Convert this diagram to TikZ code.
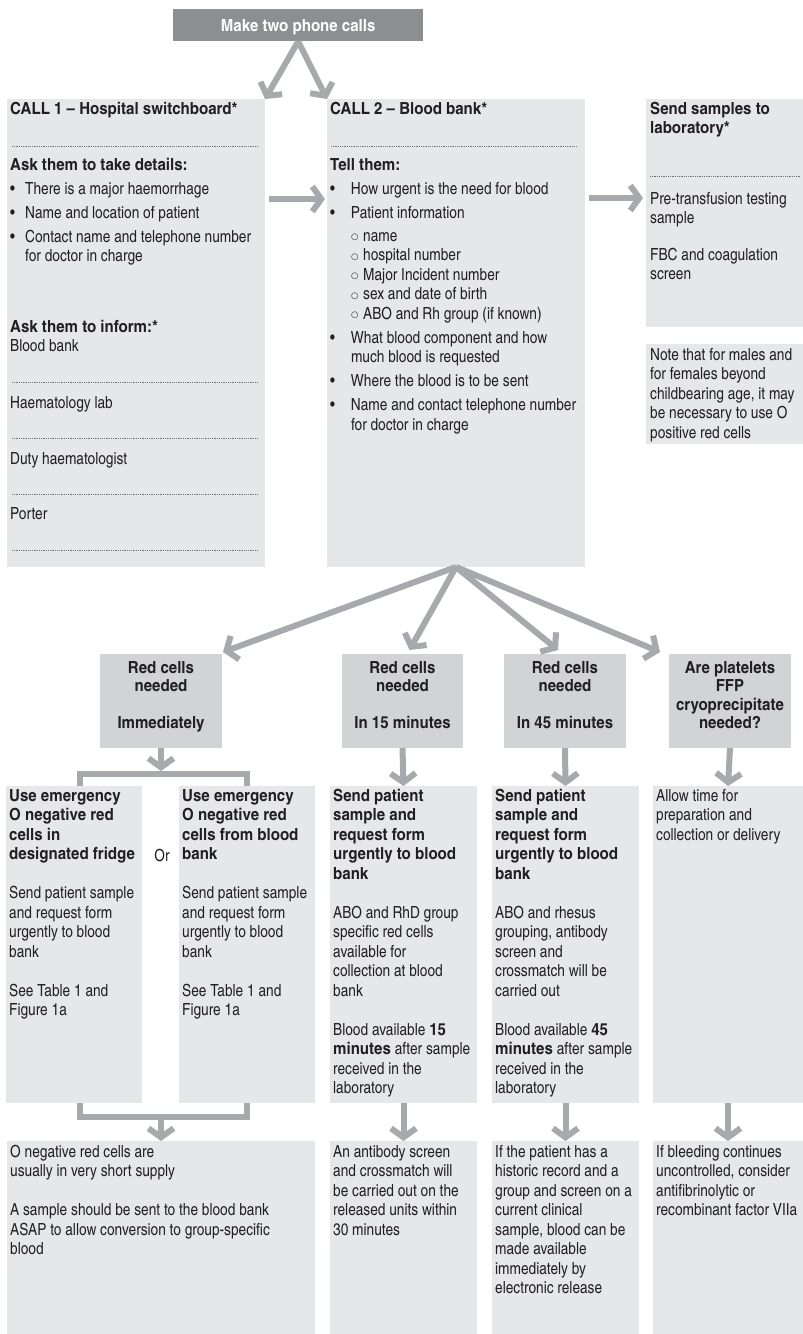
\documentclass[tikz,border=0pt]{standalone}
\usepackage{fontspec}
\setmainfont{texgyreheroscn}[Extension=.otf, UprightFont=*-regular, BoldFont=*-bold, ItalicFont=*-italic, BoldItalicFont=*-bolditalic, BoldFeatures={FakeStretch=1.1}]
\newfontfamily\symfont{DejaVu Sans}
\usetikzlibrary{arrows.meta}
\definecolor{boxlight}{HTML}{E6E7E8}
\definecolor{boxmid}{HTML}{D1D3D4}
\definecolor{boxdark}{HTML}{8C8E90}
\definecolor{arrowgray}{HTML}{A7A9AC}
\definecolor{txtc}{HTML}{231F20}
\definecolor{dotgray}{HTML}{6D6E70}
\newcommand\myreg{\fontsize{16.7}{19.5}\selectfont}
\newcommand\myrow{\fontsize{16.7}{18.5}\selectfont}
\newcommand\fs{\rule{0pt}{14pt}}
\newcommand\mybul[1][15pt]{\makebox[#1][l]{\textbullet}}
\newcommand\myind[1][15pt]{\hspace*{#1}}
\newcommand\mysub{\hspace*{21pt}\makebox[12pt][l]{\raisebox{1.6pt}{\symfont\fontsize{8.5}{8.5}\selectfont ○}}}
\begin{document}
\begin{tikzpicture}[x=1pt,y=-1pt,
  lightbox/.style={fill=boxlight,inner sep=0pt,outer sep=0pt,anchor=north west},
  midbox/.style={fill=boxmid,inner sep=0pt,outer sep=0pt,anchor=north west},
  txt/.style={inner sep=0pt,anchor=north west,align=left,text=txtc,font=\myreg},
  ctxt/.style={inner sep=0pt,anchor=north,align=center,text=txtc,font=\myrow\bfseries},
  arr/.style={draw=arrowgray,line width=6pt,-{Straight Barb[length=9pt,width=25pt]}},
  bar/.style={draw=arrowgray,line width=6pt},
  sep/.style={draw=dotgray,line width=0.7pt,dash pattern=on 0.7pt off 1.1pt}]
\fill[white] (0,0) rectangle (803,1334);
\useasboundingbox (0,0) rectangle (803,1334);

% ---------- boxes ----------
\node[fill=boxdark,inner sep=0pt,anchor=north west,minimum width=250pt,minimum height=32pt,
      text height=12pt,text depth=0pt,text=white,font=\myreg\bfseries] (title) at (173,9) {Make two phone calls};
\node[lightbox,minimum width=258pt,minimum height=468pt] (call1) at (7,99) {};
\node[lightbox,minimum width=258pt,minimum height=468pt] (call2) at (327,99) {};
\node[lightbox,minimum width=157pt,minimum height=228pt] (send) at (646,99) {};
\node[lightbox,minimum width=157pt,minimum height=100pt] (note) at (646,344) {};

\node[midbox,minimum width=122pt,minimum height=94pt] (A) at (100,654) {};
\node[midbox,minimum width=121pt,minimum height=94pt] (B) at (342,654) {};
\node[midbox,minimum width=122pt,minimum height=94pt] (C) at (504,654) {};
\node[midbox,minimum width=122pt,minimum height=94pt] (D) at (669,654) {};

\node[lightbox,minimum width=136pt,minimum height=317pt] (E) at (6,786) {};
\node[lightbox,minimum width=136pt,minimum height=317pt] (F) at (179,786) {};
\node[lightbox,minimum width=147pt,minimum height=317pt] (G) at (330,786) {};
\node[lightbox,minimum width=147pt,minimum height=317pt] (H) at (492,786) {};
\node[lightbox,minimum width=150pt,minimum height=317pt] (I) at (653,786) {};

\node[lightbox,minimum width=308pt,minimum height=193pt] (J) at (7,1141) {};
\node[lightbox,minimum width=147pt,minimum height=193pt] (K) at (330,1141) {};
\node[lightbox,minimum width=147pt,minimum height=193pt] (L) at (492,1141) {};
\node[lightbox,minimum width=150pt,minimum height=193pt] (M) at (653,1141) {};

% ---------- separators ----------
\draw[sep] (12,146) -- (257,146);
\draw[sep] (12,382) -- (257,382);
\draw[sep] (12,438) -- (257,438);
\draw[sep] (12,494) -- (257,494);
\draw[sep] (12,550) -- (257,550);
\draw[sep] (331,146) -- (577,146);
\draw[sep] (650,176) -- (800,176);

% ---------- CALL 1 ----------
\node[txt,font=\myreg\bfseries] (c1h) at (10,100) {\fs CALL 1 – Hospital switchboard*};
\node[txt] (c1a) at (10,156) {\fs\textbf{Ask them to take details:}\\[4.5pt]
  \mybul There is a major haemorrhage\\[4.5pt]
  \mybul Name and location of patient\\[4.5pt]
  \mybul Contact name and telephone number\\
  \myind for doctor in charge};
\node[txt] (c1b) at (10,318) {\fs\textbf{Ask them to inform:*}\\ Blood bank};
\node[txt] (c1c) at (10,394) {\fs Haematology lab};
\node[txt] (c1d) at (10,450) {\fs Duty haematologist};
\node[txt] (c1e) at (10,505) {\fs Porter};

% ---------- CALL 2 ----------
\node[txt,font=\myreg\bfseries] (c2h) at (330,100) {\fs CALL 2 – Blood bank*};
\node[txt] (c2a) at (330,156) {\fs\textbf{Tell them:}\\[4.5pt]
  \mybul[17pt] How urgent is the need for blood\\[4.5pt]
  \mybul[17pt] Patient information\\[3.5pt]
  \mysub name\\
  \mysub hospital number\\
  \mysub Major Incident number\\
  \mysub sex and date of birth\\
  \mysub ABO and Rh group (if known)\\[4.5pt]
  \mybul[17pt] What blood component and how\\
  \myind[17pt] much blood is requested\\[4.5pt]
  \mybul[17pt] Where the blood is to be sent\\[4.5pt]
  \mybul[17pt] Name and contact telephone number\\
  \myind[17pt] for doctor in charge};

% ---------- send samples / note ----------
\node[txt,font=\myreg\bfseries] (s1) at (650,100) {\fs Send samples to\\laboratory*};
\node[txt] (s2) at (650,190) {\fs Pre-transfusion testing\\sample\\[17pt]FBC and coagulation\\screen};
\node[txt] (n1) at (650,346) {\fs Note that for males and\\for females beyond\\childbearing age, it may\\be necessary to use O\\positive red cells};

% ---------- row of decisions ----------
\node[ctxt] (At) at (A.north |- 0,659) {\fs Red cells\\needed\\[18.5pt]Immediately};
\node[ctxt] (Bt) at (B.north |- 0,659) {\fs Red cells\\needed\\[18.5pt]In 15 minutes};
\node[ctxt] (Ct) at (C.north |- 0,659) {\fs Red cells\\needed\\[18.5pt]In 45 minutes};
\node[ctxt] (Dt) at (D.north |- 0,659) {\fs Are platelets\\FFP\\cryoprecipitate\\needed?};

% ---------- second row ----------
\node[txt] (Et) at (9,787) {\fs\textbf{Use emergency}\\\textbf{O negative red}\\\textbf{cells in}\\\textbf{designated fridge}\\[19.5pt]
  Send patient sample\\and request form\\urgently to blood\\bank\\[19.5pt]See Table 1 and\\Figure 1a};
\node[txt] (Ft) at (182,787) {\fs\textbf{Use emergency}\\\textbf{O negative red}\\\textbf{cells from blood}\\\textbf{bank}\\[19.5pt]
  Send patient sample\\and request form\\urgently to blood\\bank\\[19.5pt]See Table 1 and\\Figure 1a};
\node[txt,anchor=north] (or) at (162,847) {\fs Or};
\node[txt] (Gt) at (333,787) {\fs\textbf{Send patient}\\\textbf{sample and}\\\textbf{request form}\\\textbf{urgently to blood}\\\textbf{bank}\\[19.5pt]
  ABO and RhD group\\specific red cells\\available for\\collection at blood\\bank\\[19.5pt]
  Blood available \textbf{15}\\\textbf{minutes} after sample\\received in the\\laboratory};
\node[txt] (Ht) at (495,787) {\fs\textbf{Send patient}\\\textbf{sample and}\\\textbf{request form}\\\textbf{urgently to blood}\\\textbf{bank}\\[19.5pt]
  ABO and rhesus\\grouping, antibody\\screen and\\crossmatch will be\\carried out\\[19.5pt]
  Blood available \textbf{45}\\\textbf{minutes} after sample\\received in the\\laboratory};
\node[txt] (It) at (656,787) {\fs Allow time for\\preparation and\\collection or delivery};

% ---------- bottom row ----------
\node[txt] (Jt) at (10,1143) {\fs O negative red cells are\\usually in very short supply\\[19.5pt]
  A sample should be sent to the blood bank\\ASAP to allow conversion to group-specific\\blood};
\node[txt] (Kt) at (333,1143) {\fs An antibody screen\\and crossmatch will\\be carried out on the\\released units within\\30 minutes};
\node[txt] (Lt) at (495,1143) {\fs If the patient has a\\historic record and a\\group and screen on a\\current clinical\\sample, blood can be\\made available\\immediately by\\electronic release};
\node[txt] (Mt) at (656,1143) {\fs If bleeding continues\\uncontrolled, consider\\antifibrinolytic or\\recombinant factor VIIa};

% ---------- connectors ----------
\draw[arr] (title.south) -- (call1.north east);
\draw[arr] (title.south) -- (call2.north west);
\draw[arr] ([xshift=4pt,yshift=-100pt]call1.north east) -- ([xshift=-2pt,yshift=-100pt]call2.north west);
\draw[arr] ([xshift=4pt,yshift=-99pt]call2.north east) -- ([xshift=-3pt,yshift=-99pt]send.north west);
\draw[arr] (call2.south) -- ([xshift=1pt,yshift=2pt]A.north east);
\draw[arr] (call2.south) -- ([xshift=7pt,yshift=4pt]B.north);
\draw[arr] (call2.south) -- ([xshift=-7pt,yshift=4pt]C.north);
\draw[arr] (call2.south) -- ([xshift=-9pt,yshift=2pt]D.north west);

\coordinate (brtop) at (161,771);
\draw[bar] ([xshift=6pt]E.north) -- ++(0,-12) -| (F.north);
\draw[arr] (A.south) -- (brtop);
\draw[arr] (B.south) -- (G.north);
\draw[arr] (C.south) -- (H.north);
\draw[arr] (D.south) -- (I.north);

\coordinate (brbot) at (161,1117);
\draw[bar] ([xshift=6pt]E.south) -- ++(0,14) -| (F.south);
\draw[arr] (brbot) -- (J.north);
\draw[arr] (G.south) -- (K.north);
\draw[arr] (H.south) -- (L.north);
\draw[arr] (I.south) -- (M.north);
\end{tikzpicture}
\end{document}
